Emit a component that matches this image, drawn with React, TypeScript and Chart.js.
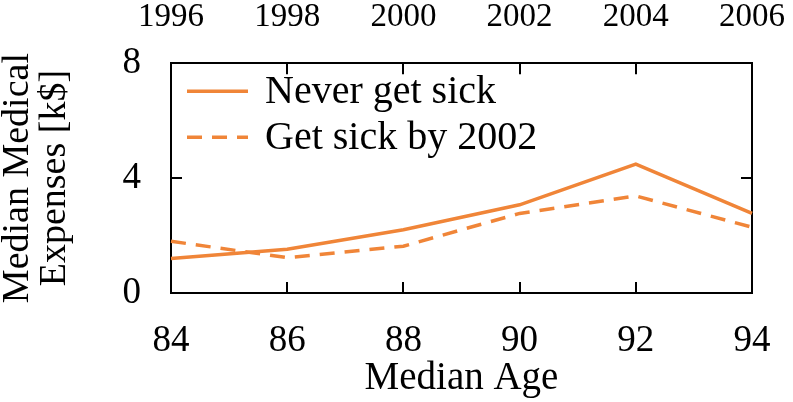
import { useEffect, useRef } from "react";
import { Chart, registerables } from "chart.js";

Chart.register(...registerables);

// ---- data ----
const ages = ["84", "86", "88", "90", "92", "94"];
const years = ["1996", "1998", "2000", "2002", "2004", "2006"];
const neverSick = [1.2, 1.52, 2.2, 3.07, 4.49, 2.77];
const sickBy2002 = [1.8, 1.23, 1.63, 2.77, 3.38, 2.29];
const yTicks = [0, 4, 8];
const seriesNames = ["Never get sick", "Get sick by 2002"];
const xTitle = "Median Age";
const yTitle = ["Median Medical", "Expenses [k$]"];

const ORANGE = "rgb(240,133,56)";
const FONT = "'Liberation Serif', 'DejaVu Serif', serif";

const legendPlugin = {
  id: "inlineLegend",
  afterDatasetsDraw(chart: any) {
    const { ctx, chartArea } = chart;
    ctx.save();
    chart.data.datasets.forEach((ds: any, i: number) => {
      const y = chartArea.top + 28 + i * 46;
      ctx.strokeStyle = ds.borderColor;
      ctx.lineWidth = ds.borderWidth;
      ctx.setLineDash(ds.borderDash || []);
      ctx.beginPath();
      ctx.moveTo(chartArea.left + 16, y);
      ctx.lineTo(chartArea.left + 77, y);
      ctx.stroke();
      ctx.setLineDash([]);
      ctx.fillStyle = "#000";
      ctx.font = `40px ${FONT}`;
      ctx.textBaseline = "middle";
      ctx.textAlign = "left";
      ctx.fillText(ds.label, chartArea.left + 94, y + 1);
    });
    ctx.restore();
  },
};

const gridOpts = {
  drawOnChartArea: false,
  drawTicks: true,
  tickLength: -11,
  color: "#000",
  lineWidth: 2,
};
const borderOpts = { display: true, color: "#000", width: 2 };

const noHPad = (s: any, h: number) => {
  s.height = h;
  s.paddingLeft = 0;
  s.paddingRight = 0;
};

export default function App() {
  const ref = useRef<HTMLCanvasElement>(null);

  useEffect(() => {
    if (!ref.current) return;
    const chart = new Chart(ref.current, {
      type: "line",
      data: {
        labels: ages,
        datasets: [
          {
            label: seriesNames[0],
            data: neverSick,
            borderColor: ORANGE,
            borderWidth: 3.5,
            pointRadius: 0,
            tension: 0,
            fill: false,
            xAxisID: "x",
            yAxisID: "y",
          },
          {
            label: seriesNames[1],
            data: sickBy2002,
            borderColor: ORANGE,
            borderWidth: 3.5,
            borderDash: [15, 10],
            pointRadius: 0,
            tension: 0,
            fill: false,
            xAxisID: "x",
            yAxisID: "y",
          },
        ],
      },
      options: {
        animation: false,
        responsive: true,
        maintainAspectRatio: false,
        layout: { padding: 0 },
        plugins: { legend: { display: false }, tooltip: { enabled: false } },
        scales: {
          x: {
            type: "category",
            position: "bottom",
            offset: false,
            grid: gridOpts,
            border: borderOpts,
            ticks: {
              font: { family: FONT, size: 37 },
              color: "#000",
              padding: 37,
              maxRotation: 0,
              autoSkip: false,
            },
            title: {
              display: true,
              text: xTitle,
              font: { family: FONT, size: 39 },
              color: "#000",
              padding: { top: 0, bottom: 0 },
            },
            afterFit: (s: any) => noHPad(s, 109),
          },
          x2: {
            type: "category",
            labels: years,
            position: "top",
            offset: false,
            grid: gridOpts,
            border: borderOpts,
            ticks: {
              font: { family: FONT, size: 33 },
              color: "#000",
              padding: 37,
              maxRotation: 0,
              autoSkip: false,
            },
            afterFit: (s: any) => noHPad(s, 62),
          },
          y: {
            type: "linear",
            position: "left",
            min: 0,
            max: 8,
            afterBuildTicks: (s: any) => {
              s.ticks = yTicks.map((v) => ({ value: v }));
            },
            grid: gridOpts,
            border: borderOpts,
            ticks: {
              font: { family: FONT, size: 37 },
              color: "#000",
              padding: 41,
            },
            title: {
              display: true,
              text: yTitle,
              font: { family: FONT, size: 38, lineHeight: 0.97 },
              color: "#000",
              padding: { top: 0, bottom: 0 },
            },
            afterFit: (s: any) => {
              s.width = 171;
            },
          },
          y2: {
            type: "linear",
            position: "right",
            min: 0,
            max: 8,
            afterBuildTicks: (s: any) => {
              s.ticks = yTicks.map((v) => ({ value: v }));
            },
            grid: gridOpts,
            border: borderOpts,
            ticks: { display: false },
            afterFit: (s: any) => {
              s.width = 41;
            },
          },
        },
      },
      plugins: [legendPlugin],
    } as any);
    return () => chart.destroy();
  }, []);

  return (
    <div
      style={{
        position: "absolute",
        left: 0,
        top: 0,
        width: 793,
        height: 402,
        background: "#fff",
      }}
    >
      <canvas ref={ref} />
    </div>
  );
}
